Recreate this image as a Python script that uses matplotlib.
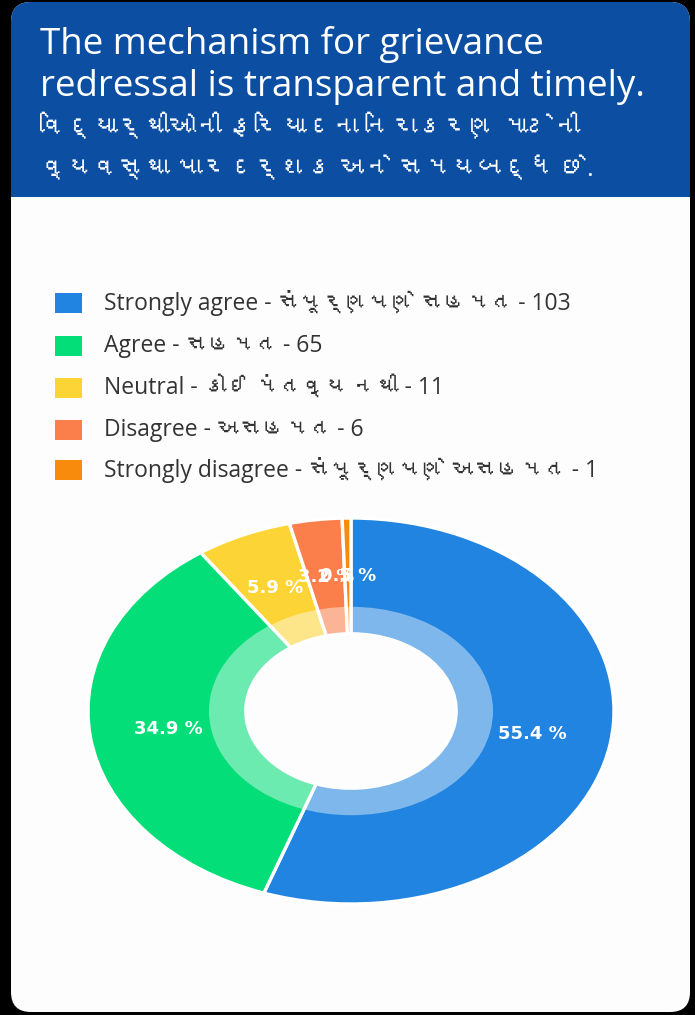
import matplotlib
matplotlib.use("Agg")
import matplotlib.pyplot as plt
from matplotlib import font_manager
from matplotlib.patches import FancyBboxPatch, Rectangle, Wedge
from matplotlib.ft2font import FT2Font

# ---------------- data ----------------
title_en = ["The mechanism for grievance", "redressal is transparent and timely."]
title_gu = ["વિદ્યાર્થીઓની ફરિયાદના નિરાકરણ માટેની", "વ્યવસ્થા પારદર્શક અને સમયબદ્ધ છે."]
categories = ["Strongly agree - સંપૂર્ણપણે સહમત",
              "Agree - સહમત",
              "Neutral - કોઈ મંતવ્ય નથી",
              "Disagree - અસહમત",
              "Strongly disagree - સંપૂર્ણપણે અસહમત"]
counts = [103, 65, 11, 6, 1]
colors = ["#2184E0", "#03DE78", "#FDD436", "#FB7F4B", "#F98B0C"]

# ---------------- fonts ----------------
gu_family = None
for f in font_manager.fontManager.ttflist:
    try:
        ft = FT2Font(f.fname)
        cmap = ft.get_charmap()
        if 0x0A95 in cmap and 0x0AB8 in cmap:
            gu_family = f.name
            break
    except Exception:
        pass
fams = ["Open Sans", "DejaVu Sans"]
if gu_family:
    fams = ["Open Sans", gu_family, "DejaVu Sans"]
plt.rcParams["font.family"] = fams

W, H = 695, 1015
fig = plt.figure(figsize=(W / 100, H / 100), dpi=100)
fig.patch.set_facecolor("black")
bg = fig.add_axes([0, 0, 1, 1])
bg.set_xlim(0, W)
bg.set_ylim(H, 0)
bg.axis("off")

# card
bg.add_patch(FancyBboxPatch((11, 2), 679, 1010, boxstyle="round,pad=0,rounding_size=20",
                            fc="#FDFDFD", ec="none"))
bg.add_patch(FancyBboxPatch((11, 2), 679, 260, boxstyle="round,pad=0,rounding_size=20",
                            fc="#0B4EA2", ec="none"))
bg.add_patch(Rectangle((11, 197), 679, 100, fc="#FDFDFD", ec="none"))

# title
ys = [44, 87, 128, 170]
en_texts = [bg.text(40, y, t, color="white", fontsize=26.5, va="center", ha="left")
            for y, t in zip(ys[:2], title_en)]
gu_texts = [bg.text(40, y, t, color="white", fontsize=20, va="center", ha="left")
            for y, t in zip(ys[2:], title_gu)]

# fit Gujarati title width to the reference line width
fig.canvas.draw()
r = fig.canvas.get_renderer()
w = gu_texts[0].get_window_extent(r).width
fs = 20 * 540 / w
for t in gu_texts:
    t.set_fontsize(min(fs, 26.5))

# legend
leg_y = [303, 346, 388, 430, 470]
for y, c, lab, n in zip(leg_y, colors, categories, counts):
    bg.add_patch(Rectangle((55, y - 10), 27, 20, fc=c, ec="none"))
    bg.text(104, y, f"{lab} - {n}", color="#333333", fontsize=16.5, va="center", ha="left")

# donut (elliptical)
cx, cy, rx, ry = 351, 711, 263, 193
ax = fig.add_axes([(cx - rx) / W, 1 - (cy + ry) / H, 2 * rx / W, 2 * ry / H])
ax.pie(counts, colors=colors, startangle=90, counterclock=False, radius=1.0,
       wedgeprops=dict(width=0.60, edgecolor="white", linewidth=2.4),
       autopct=lambda p: f"{p:.1f} %", pctdistance=0.70,
       textprops=dict(color="white", fontsize=13, fontweight="bold",
                      family=["DejaVu Sans"]))
# lighter inner band
ax.add_patch(Wedge((0, 0), 0.54, 0, 360, width=0.14, fc="white", alpha=0.42, ec="none", zorder=2))
ax.set_aspect("auto")
ax.set_xlim(-1, 1)
ax.set_ylim(-1, 1)
ax.axis("off")

fig.savefig("out.png", dpi=100, facecolor=fig.get_facecolor())
